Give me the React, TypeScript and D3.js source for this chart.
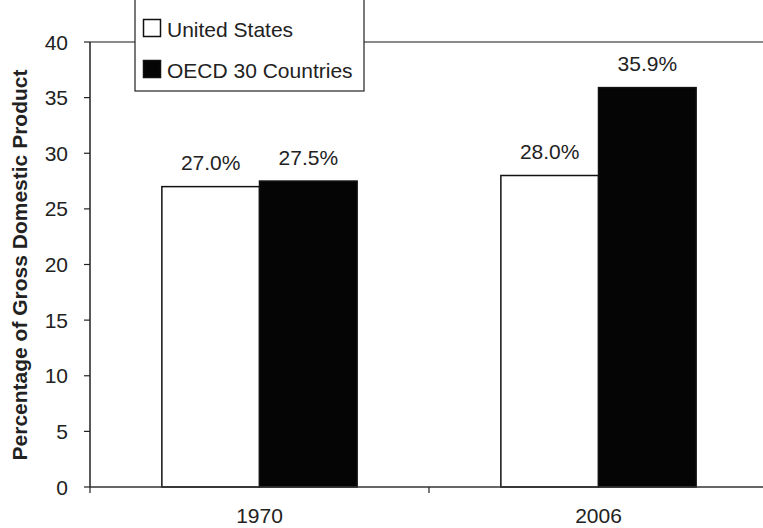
import React from "react";
import * as d3 from "d3";

const categories = ["1970", "2006"];
const seriesNames = ["United States", "OECD 30 Countries"];
const usValues = [27.0, 28.0];
const oecdValues = [27.5, 35.9];
const yTicks = [0, 5, 10, 15, 20, 25, 30, 35, 40];

const W = 763;
const H = 528;
const left = 90;
const right = 768;
const top = 42;
const bottom = 487;

export default function App() {
  const x = d3.scaleBand<string>().domain(categories).range([left, right]).paddingInner(0).paddingOuter(0);
  const y = d3.scaleLinear().domain([0, 40]).range([bottom, top]);
  const bw = x.bandwidth();
  const barW = bw * 0.288;
  const font = "Liberation Sans, Arial, sans-serif";
  const fs = 21;
  const series = [usValues, oecdValues];
  const fills = ["#ffffff", "#050505"];
  return (
    <svg width={W} height={H} style={{ position: "absolute", left: 0, top: 0, background: "#fff" }} fontFamily={font}>
      <line x1={left} x2={W} y1={top} y2={top} stroke="#8a8a8a" strokeWidth={2} />
      {categories.map((c, i) => {
        const cx = (x(c) as number) + bw / 2;
        return series.map((vals, s) => {
          const x0 = s === 0 ? cx - barW : cx;
          const v = vals[i];
          return (
            <g key={c + s}>
              <rect x={x0} y={y(v)} width={barW} height={bottom - y(v)} fill={fills[s]} stroke="#111" strokeWidth={1.5} />
              <text x={x0 + barW / 2} y={y(v) - 16.5} textAnchor="middle" fontSize={fs} fill="#222">
                {v.toFixed(1)}%
              </text>
            </g>
          );
        });
      })}
      <line x1={left} x2={left} y1={top} y2={bottom} stroke="#222" strokeWidth={1.5} />
      <line x1={left} x2={W} y1={bottom} y2={bottom} stroke="#333" strokeWidth={1.5} />
      {yTicks.map((t) => (
        <g key={t}>
          <line x1={left - 6} x2={left} y1={y(t)} y2={y(t)} stroke="#222" strokeWidth={1.2} />
          <text x={left - 22} y={y(t) + 7.5} textAnchor="end" fontSize={fs} fill="#222">
            {t}
          </text>
        </g>
      ))}
      {[...categories.map((c) => x(c) as number), right].map((p, i) => (
        <line key={i} x1={p} x2={p} y1={bottom} y2={bottom + 6} stroke="#222" strokeWidth={1.2} />
      ))}
      {categories.map((c) => (
        <text key={c} x={(x(c) as number) + bw / 2} y={523} textAnchor="middle" fontSize={fs} fill="#222">
          {c}
        </text>
      ))}
      <text
        transform={`translate(${27},${265}) rotate(-90)`}
        textAnchor="middle"
        fontSize={fs}
        fontWeight="bold"
        fill="#222"
      >
        Percentage of Gross Domestic Product
      </text>
      <rect x={135} y={-2} width={229} height={93} fill="#fff" stroke="#222" strokeWidth={1.2} />
      {seriesNames.map((n, i) => (
        <g key={n}>
          <rect x={143.5} y={19.5 + i * 41} width={17} height={17} fill={fills[i]} stroke="#111" strokeWidth={1.5} />
          <text x={167} y={37 + i * 41} fontSize={fs} fill="#222">
            {n}
          </text>
        </g>
      ))}
    </svg>
  );
}
